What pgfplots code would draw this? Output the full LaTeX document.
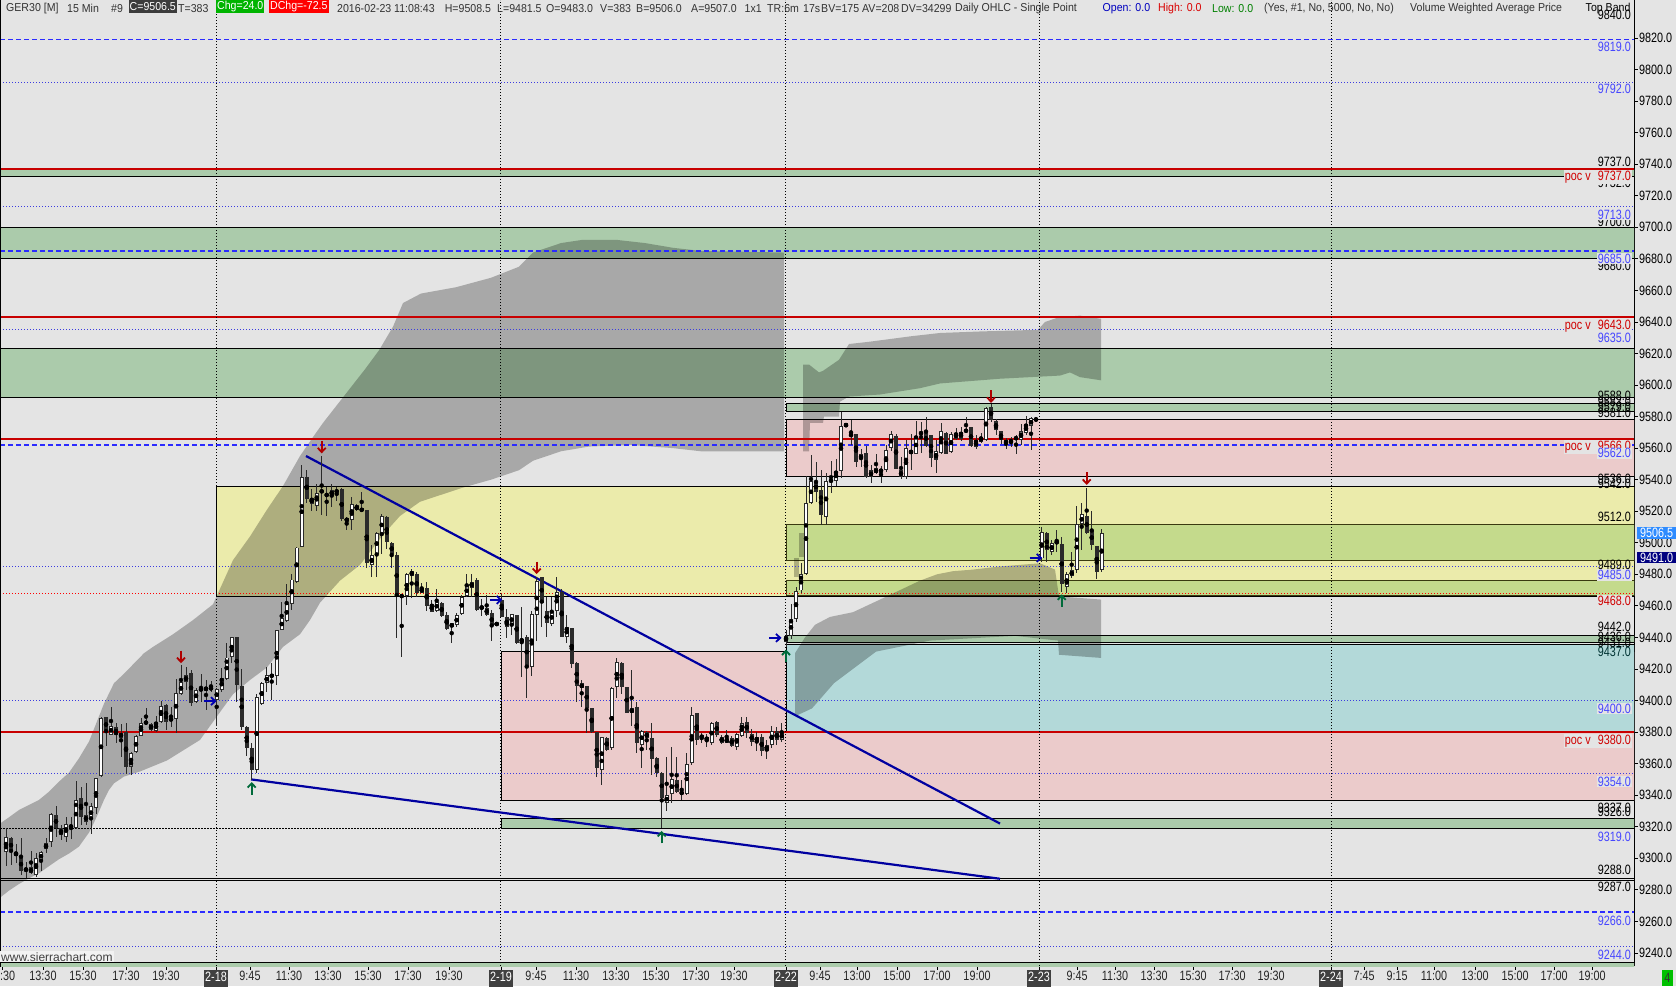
\documentclass[border=0pt]{standalone}
\usepackage{fontspec}
\setmainfont{Liberation Sans}
\newfontfamily\condensed{Liberation Sans}[FakeStretch=0.8]
\newfontfamily\hfam{Liberation Sans}[FakeStretch=0.92]
\usepackage{pgfplots}
\usepackage{pgfplotstable}
\pgfplotsset{compat=1.18}
\newcommand\cfont{\condensed\fontsize{13.5}{15}\selectfont}
\newcommand\hfont{\hfam\fontsize{11.5}{13}\selectfont}
\definecolor{bgc}{HTML}{E4E4E4}
\definecolor{zgreen}{HTML}{ABCBAB}
\definecolor{zyellow}{HTML}{EBEBAB}
\definecolor{zpink}{HTML}{EBCBCB}
\definecolor{zcyan}{HTML}{B3D9D9}
\definecolor{zlime}{HTML}{C4DA8C}
\definecolor{limeb}{HTML}{3A3A10}
\definecolor{pocred}{HTML}{C80000}
\definecolor{dblue}{HTML}{2B2BFF}
\definecolor{dotblue}{HTML}{3C3CE0}
\definecolor{labblue}{HTML}{4646FF}
\definecolor{labred}{HTML}{D00000}
\definecolor{tlblue}{HTML}{0000A0}
\definecolor{arrred}{HTML}{B00000}
\definecolor{arrgreen}{HTML}{006A3A}
\definecolor{arrblue}{HTML}{0000B0}
\definecolor{dboxc}{HTML}{404040}
\definecolor{hdr}{HTML}{333333}
\definecolor{hgreen}{HTML}{00B400}
\definecolor{hred}{HTML}{FF0000}
\definecolor{hdark}{HTML}{3C3C3C}
\definecolor{dodger}{HTML}{2E8BFF}
\definecolor{navyc}{HTML}{000080}
\definecolor{boxgreen}{HTML}{00C000}
\definecolor{candk}{HTML}{2A2A2A}
\tikzset{
  lab/.style={anchor=east, inner sep=1pt, font=\cfont},
  blab/.style={lab, text=labblue, fill=bgc},
  rlab/.style={lab, text=labred, fill=bgc},
  klab/.style={lab, text=black},
}
\newcommand\dbox[1]{{\setlength{\fboxsep}{1pt}\colorbox{dboxc}{\strut\textcolor{white}{#1}}}}
\pgfdeclareplotmark{dnarrow}{%
  \pgfpathmoveto{\pgfqpoint{0pt}{12pt}}\pgfpathlineto{\pgfqpoint{0pt}{1pt}}\pgfusepathqstroke
  \pgfpathmoveto{\pgfqpoint{-4pt}{5pt}}\pgfpathlineto{\pgfqpoint{0pt}{0.8pt}}\pgfpathlineto{\pgfqpoint{4pt}{5pt}}\pgfusepathqstroke}
\pgfdeclareplotmark{uparrow}{%
  \pgfpathmoveto{\pgfqpoint{0pt}{-12pt}}\pgfpathlineto{\pgfqpoint{0pt}{-1pt}}\pgfusepathqstroke
  \pgfpathmoveto{\pgfqpoint{-4pt}{-5pt}}\pgfpathlineto{\pgfqpoint{0pt}{-0.8pt}}\pgfpathlineto{\pgfqpoint{4pt}{-5pt}}\pgfusepathqstroke}
\pgfdeclareplotmark{rarrow}{%
  \pgfpathmoveto{\pgfqpoint{-12pt}{0pt}}\pgfpathlineto{\pgfqpoint{-1pt}{0pt}}\pgfusepathqstroke
  \pgfpathmoveto{\pgfqpoint{-5pt}{4pt}}\pgfpathlineto{\pgfqpoint{-0.8pt}{0pt}}\pgfpathlineto{\pgfqpoint{-5pt}{-4pt}}\pgfusepathqstroke}

\pgfplotstableread{
x O H L C
6 9304.2 9319 9295.1 9313.7
11 9312.7 9313.7 9295.8 9304.2
16 9304 9309.1 9297.2 9301.5
21 9300.6 9312.7 9289.4 9292.2
26 9292.2 9297.9 9287.3 9293.9
31 9294.3 9304.6 9290.1 9290.5
36 9289.4 9303.2 9288.4 9300
41 9298.5 9304.8 9292.2 9304.2
46 9305.7 9312.7 9303.2 9309.5
51 9310.6 9328.9 9307.4 9328.1
56 9327.5 9333.2 9313.7 9319.6
61 9319 9321.1 9311.6 9314.8
66 9313.7 9326.4 9310.6 9321.8
71 9321.1 9326.4 9312 9319.6
76 9319 9349.2 9318.4 9337
81 9338 9345.4 9321.1 9326.4
86 9327.5 9348 9321.1 9323.2
91 9324.7 9335.3 9315.4 9333.2
96 9331.7 9351.3 9328.1 9350.7
101 9352.2 9389.8 9351.8 9389.2
106 9389.4 9389.8 9371.5 9380.3
111 9378.6 9396.2 9378.2 9383.9
116 9383.1 9385.6 9373.4 9378.2
121 9376.7 9385.2 9364.5 9379.7
126 9380.3 9385.6 9353.5 9357.7
131 9358.1 9367.7 9352.9 9366.6
136 9367.4 9378.2 9366.6 9377.2
141 9377.6 9388.8 9377.2 9385.6
146 9386.9 9395.1 9384.6 9385.2
151 9385.2 9385.6 9381 9381.4
156 9380.8 9390.5 9380.3 9386.3
161 9386.7 9399.4 9386 9396.8
166 9397 9397.7 9381.4 9386.7
171 9387.3 9396.2 9383.5 9388.8
176 9388.2 9413.5 9379.7 9404.6
181 9404 9422.6 9403.6 9411.6
186 9412 9421.5 9406.8 9416.1
191 9417.7 9419.4 9396.6 9398.3
196 9399.4 9407.8 9398.3 9406.8
201 9406.3 9416.7 9399.4 9408
206 9406.3 9413.1 9394.1 9408.9
211 9408.4 9412.5 9405.7 9407.2
216.7 9400.4 9408.2 9384 9407.2
221.7 9406.7 9420.4 9405.6 9414.1
226.7 9414.1 9436.3 9413 9427.4
231.7 9427.8 9440.1 9423.6 9440.1
236.7 9440.1 9440.1 9399.3 9409.8
241.7 9409.2 9419.8 9381.3 9383
246.7 9383 9384 9365 9370
251.7 9370 9373 9350 9356
256.7 9356 9404 9354 9402.4
261.7 9397.8 9412 9397.2 9410.9
266.7 9411.3 9421.5 9405.6 9416
271.7 9414.7 9423.6 9400.3 9416.8
276.7 9415.5 9445.1 9409.8 9444.7
281.7 9445.1 9462.7 9444.7 9452.1
286.7 9450.6 9473.9 9450 9461.2
291.7 9461.6 9480.2 9457.4 9476.8
296.7 9475.3 9497.5 9474.3 9497.1
301.7 9497.5 9549.3 9497.1 9541.9
306.7 9541.9 9546.1 9525 9528.2
311.7 9528.2 9534.5 9520.3 9525
316.7 9523.5 9537.3 9520.3 9531.8
321.7 9532.5 9555 9517.6 9533
326.7 9530.9 9535.2 9517 9530
331.7 9529.9 9537.3 9522.5 9533.4
336.7 9533 9535.2 9526.7 9532.5
341.7 9533.9 9534.5 9514 9514.9
346.7 9513.4 9516.5 9508.1 9516.1
351.7 9514.9 9528.8 9508.1 9525
356.7 9523.7 9524.6 9520.3 9520.8
361.7 9519.9 9532.4 9519.7 9522
366.7 9520.8 9520.8 9483.8 9487
371.7 9485.9 9498.6 9478.5 9492.2
376.7 9492.9 9507 9478.5 9506.4
381.7 9505.6 9518.2 9492.9 9517
386.7 9516.1 9517 9495.8 9500.7
391.7 9500 9500.7 9483.8 9492.9
396.7 9492.2 9494.4 9439.4 9466.3
401.7 9466.9 9467 9427.8 9465.8
406.7 9466.3 9481.1 9460.5 9480.2
411.7 9479 9483.2 9465.4 9482.3
416.7 9480.6 9481.7 9465.8 9468
421.7 9468.4 9474.3 9468 9471.7
426.7 9471.1 9475.3 9457 9459.9
431.7 9461.2 9464.1 9456.3 9456.3
436.7 9457 9470.5 9456.3 9462.7
441.7 9461.6 9462.7 9453.2 9453.6
446.7 9454.2 9456.3 9444.7 9445.1
451.7 9446.4 9449.3 9436.3 9448.9
456.7 9447.9 9455.3 9446.8 9454.2
461.7 9455.3 9466.9 9454.2 9465.8
466.7 9466.3 9480.2 9465.8 9473.2
471.7 9471.7 9480.6 9465.8 9475.3
476.7 9476.8 9477.5 9457 9457.8
481.7 9458.4 9464.1 9453.6 9459.9
486.7 9459 9467 9453.6 9454.2
491.7 9455.3 9457.4 9438 9447.3
496.7 9448.4 9449.2 9448 9448.8
501.7 9463.8 9467.6 9452.8 9453.2
506.7 9452.8 9457.9 9439.5 9446.9
511.7 9448 9454.7 9441.6 9454.7
516.7 9454.3 9454.3 9435.9 9436.7
521.7 9437.4 9459.1 9414.8 9439.1
526.7 9440.1 9441.6 9401.5 9421.5
531.7 9421.1 9457 9415.6 9454.7
536.7 9454.3 9478.6 9438 9476
541.7 9478.2 9478.6 9446.9 9461.7
546.7 9456.8 9465.5 9440.5 9449
551.7 9448.6 9465.5 9447.3 9457
556.7 9457 9478.6 9453.2 9469.1
561.7 9469.1 9471 9440.5 9440.5
566.7 9440.1 9454.3 9436.3 9446.9
571.7 9445.8 9445.8 9420.5 9423.2
576.7 9424.1 9424.7 9399.3 9409.3
581.7 9411 9413.1 9396.2 9407.8
586.7 9409.3 9409.3 9379.3 9395.1
591.7 9395.1 9395.1 9379.3 9380.3
596.7 9380.3 9380.3 9351.4 9357.1
601.7 9356 9377.2 9346.5 9376.7
606.7 9376.1 9377.2 9368.3 9368.7
611.7 9369.8 9408.9 9368.7 9407.8
616.7 9408.9 9426.8 9401.5 9424.7
621.7 9423.6 9424.7 9404.6 9408.9
626.7 9408.4 9408.9 9392 9392.4
631.7 9392.4 9419.8 9383.9 9395.1
636.7 9395.7 9399.3 9366.6 9372.9
641.7 9371.9 9381.4 9357.1 9381
646.7 9380.1 9381 9368.7 9376.1
651.7 9376.1 9385.6 9352.9 9362.8
656.7 9363.4 9364 9351.8 9353.9
661.7 9353.9 9354.5 9319 9338
666.7 9335 9364.5 9330 9340.2
671.7 9340.8 9370.8 9335 9350
676.7 9349.7 9364 9341.2 9342.3
681.7 9342.3 9350 9337 9340.8
686.7 9340.8 9366.6 9340.2 9359.8
691.7 9360.2 9395.7 9359.2 9390.9
696.7 9391.9 9392.4 9371.9 9375
701.7 9376.1 9379.3 9373.4 9378.2
706.7 9377.2 9378.9 9370.8 9374.6
711.7 9373.4 9386.7 9371.9 9385.6
716.7 9386.7 9387.3 9377.2 9378.2
721.7 9377.2 9378.2 9372.5 9372.9
726.7 9373.4 9381 9373 9376.1
731.7 9376.1 9377.2 9370.8 9371.2
736.7 9370.8 9379.3 9368.7 9378.9
741.7 9377.6 9389.8 9377.2 9385.6
746.7 9386.7 9389.8 9376.1 9379.3
751.7 9379 9382 9371 9374
756.7 9374 9380 9368 9377
761.7 9377 9379 9365 9368
766.7 9368 9375 9363 9372
771.7 9372 9384 9370 9381
776.7 9381 9383 9372 9375
781.7 9375 9386 9374 9380
786 9437 9445 9434 9441
791 9441 9461.6 9439 9452
796 9452 9472.2 9450 9469.5
801 9469.7 9487.4 9468.4 9480.2
806 9480.6 9542.4 9479.6 9525.1
811 9525.5 9556.1 9525 9539.2
816 9538.6 9551.2 9526.1 9532.4
821 9533.5 9546.2 9511.3 9517.7
826 9516.6 9544.1 9511.3 9539.2
831 9539.8 9552.1 9531.4 9539
836 9539.4 9553.1 9536 9545.5
841 9545.7 9583.2 9541.5 9574.1
846 9573.2 9576.2 9573.2 9576.2
851 9569 9578.3 9562 9567.7
856 9569 9569 9547.9 9551.5
861 9552.9 9559.3 9548.3 9556.1
866 9556.7 9561.4 9540.9 9541.5
871 9541.9 9549.3 9538.1 9546.2
876 9547.2 9556.3 9543.6 9544.1
881 9544.5 9548.7 9537.7 9547.2
886 9546.2 9562 9545.1 9558.8
891 9559.9 9571.1 9558.4 9569
896 9567.7 9569 9546.6 9547.2
901 9546.2 9554.6 9540.3 9541.9
906 9541.9 9565.2 9540.3 9559.9
911 9558.8 9569 9546.2 9556.7
916 9556.7 9577.4 9556.3 9567.7
921 9569 9576.8 9557.2 9570.3
926 9571.1 9580 9561 9561.4
931 9568.4 9568.4 9547.9 9554
936 9552.9 9565.2 9544.1 9558.4
941 9556.7 9576.2 9556.3 9570.9
946 9569.8 9570.5 9556.3 9556.7
951 9557.8 9570.5 9557.2 9569
956 9569.8 9572.6 9565.2 9566.2
961 9565.6 9573.6 9564.8 9570.5
966 9570.5 9579.6 9569.8 9571.9
971 9573.2 9573.6 9561 9561.4
976 9560.5 9568.4 9559.9 9565.2
981 9567.3 9569.4 9563.1 9564.1
986 9565.2 9586.3 9564.8 9585.3
991 9585.9 9588 9576.8 9577.9
996 9577.4 9578.9 9568.4 9571.5
1001 9570.8 9570.8 9562.6 9565.1
1006 9565.1 9566.2 9559.2 9562.6
1011 9563.4 9567.2 9560.5 9565.5
1016 9566.6 9568.3 9556.3 9566.2
1021 9565.1 9575.3 9562 9570.8
1026 9569.8 9580.3 9568.3 9575.3
1031 9574 9579.5 9558.8 9578.9
1036 9578.2 9578.8 9577.6 9578.5
1041.7 9490.1 9509.8 9488 9506.6
1046.7 9506 9506.8 9488 9495.4
1051.7 9494.3 9501.7 9492.2 9500
1056.7 9501.1 9508.1 9494.3 9499.6
1061.7 9499.6 9504 9469 9474
1066.7 9472 9481.7 9468 9480.2
1071.7 9478.9 9494.3 9478 9482.7
1076.7 9482.7 9523.3 9480.6 9511.9
1081.7 9511.9 9525 9495.4 9518.2
1086.7 9517 9535.1 9506 9506.4
1091.7 9508.1 9520.3 9495.4 9498.6
1096.7 9497.9 9497.9 9477.4 9481.7
1101.7 9483 9508.5 9481.5 9506.5
}\candles

\begin{document}
\begin{tikzpicture}
\fill[bgc] (0,0) rectangle (1676pt,986pt);
\path[use as bounding box] (0,0) rectangle (1676pt,986pt);
\begin{axis}[
  at={(0pt,20pt)}, anchor=south west,
  scale only axis, width=1634pt, height=966pt,
  xmin=0, xmax=1634, ymin=9231.7, ymax=9844.1,
  axis y line*=right, axis x line*=bottom,
  x axis line style={draw=none},
  y axis line style={black, line width=1pt},
  ytick={9240,9260,...,9820},
  scaled y ticks=false,
  /pgf/number format/assume math mode=true,
  yticklabel={\pgfmathprintnumber[fixed,fixed zerofill,precision=1,1000 sep={}]{\tick}},
  tick align=outside, major tick length=4pt,
  tick style={black, line width=0.8pt},
  yticklabel style={font=\cfont, anchor=west, inner sep=1pt},
  xtick={2,43,83,126,166,216,250,289,328,368,408,449,501,536,576,616,656,696,734,786,820,857,897,937,977,1039,1077,1115,1154,1193,1232,1271,1331,1364,1397,1434,1475,1515,1554,1592},
  xticklabels={11:30,13:30,15:30,17:30,19:30,\dbox{2-18},9:45,11:30,13:30,15:30,17:30,19:30,\dbox{2-19},9:45,11:30,13:30,15:30,17:30,19:30,\dbox{2-22},9:45,13:00,15:00,17:00,19:00,\dbox{2-23},9:45,11:30,13:30,15:30,17:30,19:30,\dbox{2-24},7:45,9:15,11:00,13:00,15:00,17:00,19:00},
  xticklabel style={font=\cfont, anchor=north, inner sep=0pt, text=black!85},
  typeset ticklabels with strut,
]
% zones
\addplot[fill=zgreen, draw=black, line width=1pt] coordinates {(0,9732) (1640,9732) (1640,9737) (0,9737)} --cycle;
\addplot[fill=zgreen, draw=black, line width=1pt] coordinates {(0,9680) (1640,9680) (1640,9700) (0,9700)} --cycle;
\addplot[fill=zgreen, draw=black, line width=1pt] coordinates {(0,9592) (1640,9592) (1640,9623) (0,9623)} --cycle;
\addplot[fill=zgreen, draw=black, line width=1pt] coordinates {(786,9583) (1640,9583) (1640,9588) (786,9588)} --cycle;
\addplot[fill=zpink, draw=black, line width=1pt] coordinates {(786,9542) (1640,9542) (1640,9578) (786,9578)} --cycle;
\addplot[fill=zyellow, draw=black, line width=1pt] coordinates {(216.7,9466) (1640,9466) (1640,9535.5) (216.7,9535.5)} --cycle;
\addplot[fill=zlime, draw=limeb, line width=1pt] coordinates {(786,9488.5) (1640,9488.5) (1640,9511.5) (786,9511.5)} --cycle;
\addplot[fill=zlime, draw=limeb, line width=1pt] coordinates {(786,9466.5) (1640,9466.5) (1640,9476) (786,9476)} --cycle;
\addplot[fill=zpink, draw=black, line width=1pt] coordinates {(501.7,9336.5) (1640,9336.5) (1640,9431) (501.7,9431)} --cycle;
\addplot[fill=zcyan, draw=black, line width=1pt] coordinates {(786,9380) (1640,9380) (1640,9435.5) (786,9435.5)} --cycle;
\addplot[fill=zgreen, draw=black, line width=1pt] coordinates {(786,9436.5) (1640,9436.5) (1640,9441.5) (786,9441.5)} --cycle;
\addplot[fill=zgreen, draw=black, line width=1pt] coordinates {(501.7,9319) (1640,9319) (1640,9325.5) (501.7,9325.5)} --cycle;
\addplot[fill=zgreen, draw=black, line width=1pt] coordinates {(0,9220) (1640,9220) (1640,9233.9) (0,9233.9)} --cycle;
% VWAP bands
\addplot[draw=none, fill=black, fill opacity=0.26] coordinates {
(0,9322) (9,9326) (19,9330.6) (29,9333.8) (39,9337) (49,9342.2) (59,9348.6) (69,9354.3) (79,9363.4) (89,9374) (99,9390) (104,9398) (114,9411) (124,9417) (144,9430) (153,9434) (173,9442) (193,9451) (213,9461) (233,9489) (250,9504) (267,9521) (283,9536) (300,9555) (313,9567) (323,9576) (344,9593) (365,9610) (379,9622) (393,9637) (403,9652) (421,9658) (456,9662) (491,9668) (519,9675) (533,9684) (561,9690) (582,9692) (617,9692) (645,9690) (673,9687) (701,9685) (784,9684)
(784,9558) (701,9558) (673,9560) (631,9562) (589,9561) (561,9558) (533,9552) (519,9546) (491,9540) (463,9535) (420,9526) (400,9517) (383,9505) (360,9486) (340,9476) (320,9462) (310,9451) (300,9442) (283,9434) (267,9421) (250,9413) (233,9404) (217,9390) (200,9375) (167,9362) (140,9355) (124,9351.8) (114,9347.5) (109,9343.3) (104,9337) (99,9329.6) (94,9322.6) (89,9316.3) (79,9307.4) (69,9303) (59,9299.4) (49,9295) (39,9290.5) (29,9287.3) (19,9283.7) (9,9279.5) (0,9275)} --cycle;
\addplot[draw=none, fill=black, fill opacity=0.26] coordinates {
(803,9613) (809,9613) (819,9608) (823,9609) (839,9616) (849,9626) (870,9627.5) (912,9631) (940,9633) (982,9634) (1038,9635) (1045,9640) (1059,9643) (1080,9644) (1101,9642)
(1101,9603) (1080,9605) (1070,9608) (1060,9606) (1030,9605) (1000,9604) (980,9603) (940,9601) (920,9598) (900,9596) (880,9594) (849,9592.7) (840,9589.5) (839,9580) (824,9580) (823,9576) (810,9576) (809,9558) (803,9558)} --cycle;
\addplot[draw=none, fill=black, fill opacity=0.26] coordinates {
(795,9430) (805,9440) (815,9448) (830,9453) (853,9456) (880,9464) (900,9470) (920,9476) (937,9480) (953,9482) (973,9483) (1000,9485) (1040,9487) (1055,9483) (1059,9466) (1101,9464)
(1101,9427) (1059,9429) (1058,9438) (1015,9441) (930,9438) (876,9431) (834,9411) (812,9395) (795,9390)} --cycle;
\addplot[draw=none, fill=black, fill opacity=0.26] coordinates {(794,9478.6) (799,9478.6) (799,9490.6) (794,9490.6)} --cycle;
\addplot[draw=none, fill=black, fill opacity=0.26] coordinates {(799,9491) (805,9491) (805,9506) (799,9506)} --cycle;
% horizontal lines
\addplot[color=dblue, line width=1.6pt, dash pattern=on 5pt off 3pt] coordinates {(0,9819) (1634,9819)};
\addplot[color=dblue, line width=1.6pt, dash pattern=on 5pt off 3pt] coordinates {(0,9685) (1634,9685)};
\addplot[color=dblue, line width=1.6pt, dash pattern=on 5pt off 3pt] coordinates {(0,9562) (1634,9562)};
\addplot[color=dblue, line width=1.6pt, dash pattern=on 5pt off 3pt] coordinates {(0,9266) (1634,9266)};
\addplot[color=dotblue, line width=0.9pt, dash pattern=on 1pt off 2pt] coordinates {(0,9792) (1634,9792)};
\addplot[color=dotblue, line width=0.9pt, dash pattern=on 1pt off 2pt] coordinates {(0,9713) (1634,9713)};
\addplot[color=dotblue, line width=0.9pt, dash pattern=on 1pt off 2pt] coordinates {(0,9635) (1634,9635)};
\addplot[color=dotblue, line width=0.9pt, dash pattern=on 1pt off 2pt] coordinates {(0,9485) (1634,9485)};
\addplot[color=dotblue, line width=0.9pt, dash pattern=on 1pt off 2pt] coordinates {(0,9400) (1634,9400)};
\addplot[color=dotblue, line width=0.9pt, dash pattern=on 1pt off 2pt] coordinates {(0,9354) (1634,9354)};
\addplot[color=dotblue, line width=0.9pt, dash pattern=on 1pt off 2pt] coordinates {(0,9244) (1634,9244)};
\addplot[color=red, line width=0.9pt, dash pattern=on 1pt off 2pt] coordinates {(0,9468) (1634,9468)};
\addplot[color=black, line width=0.8pt, dash pattern=on 2pt off 1pt] coordinates {(0,9319) (1598,9319)};
\addplot[color=black, line width=0.9pt] coordinates {(0,9287.4) (1634,9287.4)};
\addplot[color=black, line width=0.9pt] coordinates {(0,9286.1) (1634,9286.1)};
\addplot[color=pocred, line width=2pt] coordinates {(0,9737) (1634,9737)};
\addplot[color=pocred, line width=2pt] coordinates {(0,9643) (1634,9643)};
\addplot[color=pocred, line width=2pt] coordinates {(0,9566) (1634,9566)};
\addplot[color=pocred, line width=2pt] coordinates {(0,9380) (1634,9380)};
% day separators and left frame
\addplot[color=black, line width=0.8pt, dash pattern=on 1pt off 2pt] coordinates {(216,9231.7) (216,9844.1)};
\addplot[color=black, line width=0.8pt, dash pattern=on 1pt off 2pt] coordinates {(500,9231.7) (500,9844.1)};
\addplot[color=black, line width=0.8pt, dash pattern=on 1pt off 2pt] coordinates {(785,9231.7) (785,9844.1)};
\addplot[color=black, line width=0.8pt, dash pattern=on 1pt off 2pt] coordinates {(1039.5,9231.7) (1039.5,9844.1)};
\addplot[color=black, line width=0.8pt, dash pattern=on 1pt off 2pt] coordinates {(1331,9231.7) (1331,9844.1)};
\addplot[color=black, line width=1.2pt] coordinates {(0.6,9231.7) (0.6,9844.1)};
% trend lines
\addplot[color=tlblue, line width=2.2pt] coordinates {(306,9555) (1000,9322)};
\addplot[color=tlblue, line width=2.2pt] coordinates {(251,9350) (1000,9287)};
% candles
\addplot[only marks, mark=none, error bars/.cd, y dir=both, y explicit, error mark=none,
  error bar style={line width=0.9pt, color=candk}]
  table[x=x, y expr={(\thisrow{H}+\thisrow{L})/2}, y error expr={(\thisrow{H}-\thisrow{L})/2}] {\candles};
\addplot[only marks, mark=none, error bars/.cd, y dir=both, y explicit, error mark=none,
  error bar style={line width=4.2pt, color=candk, line cap=butt}]
  table[x=x, y expr={(\thisrow{O}+\thisrow{C})/2}, y error expr={max(abs(\thisrow{C}-\thisrow{O})/2,0.45)}] {\candles};
\addplot[only marks, mark=none, error bars/.cd, y dir=both, y explicit, error mark=none,
  error bar style={line width=2.2pt, color=white, line cap=butt}]
  table[x=x, y expr={(\thisrow{O}+\thisrow{C})/2}, y error expr={max((\thisrow{C}-\thisrow{O})/2-0.6,0)}] {\candles};
% arrows
\addplot[only marks, mark=dnarrow, color=arrred, mark options={line width=1.8pt, solid}] coordinates {(181,9424) (321.7,9557) (536.7,9480.5) (991,9589) (1086.7,9537)};
\addplot[only marks, mark=uparrow, color=arrgreen, mark options={line width=1.8pt, solid}] coordinates {(251.7,9348) (661.7,9317) (786,9432) (1061.7,9467)};
\addplot[only marks, mark=rarrow, color=arrblue, mark options={line width=1.8pt, solid}] coordinates {(216,9399.6) (501.7,9463.8) (781,9439.7) (1041.7,9490.4)};
% right labels
\node[klab] at (1632,9834.6) {9840.0};
\node[blab] at (1632,9814.1) {9819.0};
\node[blab] at (1632,9787.5) {9792.0};
\node[klab] at (1632,9741.2) {9737.0};
\node[klab] at (1632,9728) {9732.0};
\node[rlab] at (1632,9731.7) {poc v\hspace{7pt}9737.0};
\node[klab] at (1632,9703.4) {9700.0};
\node[blab] at (1632,9708.2) {9713.0};
\node[klab] at (1632,9675.5) {9680.0};
\node[blab] at (1632,9680.3) {9685.0};
\node[rlab] at (1632,9637.4) {poc v\hspace{7pt}9643.0};
\node[blab] at (1632,9630) {9635.0};
\node[klab] at (1632,9593.3) {9588.0};
\node[klab] at (1632,9589.5) {9583.0};
\node[klab] at (1632,9586) {9579.0};
\node[klab] at (1632,9582.5) {9581.0};
\node[rlab] at (1632,9560.7) {poc v\hspace{7pt}9566.0};
\node[blab] at (1632,9556.7) {9562.0};
\node[klab] at (1632,9540.4) {9536.0};
\node[klab] at (1632,9537.3) {9542.0};
\node[klab] at (1632,9516.6) {9512.0};
\node[klab] at (1632,9485.9) {9489.0};
\node[blab] at (1632,9479.6) {9485.0};
\node[rlab] at (1632,9463.1) {9468.0};
\node[klab] at (1632,9446.8) {9442.0};
\node[klab] at (1632,9440.5) {9436.0};
\node[klab] at (1632,9436.5) {9431.0};
\node[klab, text=black!60!teal] at (1632,9431) {9437.0};
\node[blab] at (1632,9395) {9400.0};
\node[rlab] at (1632,9374.5) {poc v\hspace{7pt}9380.0};
\node[blab] at (1632,9348.6) {9354.0};
\node[klab] at (1632,9331.9) {9337.0};
\node[klab] at (1632,9329.4) {9326.0};
\node[blab] at (1632,9313.7) {9319.0};
\node[klab] at (1632,9292.6) {9288.0};
\node[klab] at (1632,9281.6) {9287.0};
\node[blab] at (1632,9260.5) {9266.0};
\node[blab] at (1632,9238.7) {9244.0};
\end{axis}
% header
\begin{scope}[every node/.style={anchor=west, inner sep=0pt, font=\hfont, text=hdr}]
\node at (6pt,977.5pt) {GER30 [M]};
\node at (67pt,977.5pt) {15 Min};
\node at (111pt,977.5pt) {\#9};
\node[fill=hdark, text=white, minimum height=13pt, inner xsep=1pt] at (128.5pt,979.5pt) {C=9506.5};
\node at (178pt,977.5pt) {T=383};
\node[fill=hgreen, text=white, minimum height=13pt, inner xsep=1pt] at (216pt,979.5pt) {Chg=24.0};
\node[fill=hred, text=white, minimum height=13pt, inner xsep=1pt] at (269pt,979.5pt) {DChg=-72.5};
\node at (337pt,977.5pt) {2016-02-23 11:08:43};
\node at (444.6pt,977.5pt) {H=9508.5};
\node at (497pt,977.5pt) {L=9481.5};
\node at (546pt,977.5pt) {O=9483.0};
\node at (600pt,977.5pt) {V=383};
\node at (636pt,977.5pt) {B=9506.0};
\node at (691pt,977.5pt) {A=9507.0};
\node at (744.5pt,977.5pt) {1x1};
\node at (767pt,977.5pt) {TR:6m};
\node at (803pt,977.5pt) {17s};
\node at (821pt,977.5pt) {BV=175};
\node at (862pt,977.5pt) {AV=208};
\node at (901pt,977.5pt) {DV=34299};
\node at (955pt,977.5pt) {Daily OHLC - Single Point};
\node[text=blue!75!black] at (1102.5pt,977.5pt) {Open: 0.0};
\node[text=red!85!black] at (1158pt,977.5pt) {High: 0.0};
\node[text=green!50!black] at (1212pt,977.5pt) {Low: 0.0};
\node at (1264pt,977.5pt) {(Yes, \#1, No, 5000, No, No)};
\node at (1410pt,977.5pt) {Volume Weighted Average Price};
\node[text=black] at (1585.5pt,977.5pt) {Top Band};
\end{scope}
% axis value boxes
\node[anchor=west, fill=dodger, text=white, inner sep=1pt, minimum width=39pt, font=\cfont] at (1637pt,453pt) {9506.5};
\node[anchor=west, fill=navyc, text=white, inner sep=1pt, minimum width=39pt, font=\cfont] at (1637pt,428.5pt) {9491.0};
\node[anchor=south west, fill=boxgreen, text=black!80, inner sep=1pt, minimum width=11pt, minimum height=16pt, font=\cfont] at (1661.7pt,0pt) {4};
\node[anchor=south west, fill=black!5, text=black!75, inner sep=1pt, font=\fontsize{12}{13}\selectfont] at (0pt,23.6pt) {www.sierrachart.com};
\end{tikzpicture}
\end{document}
